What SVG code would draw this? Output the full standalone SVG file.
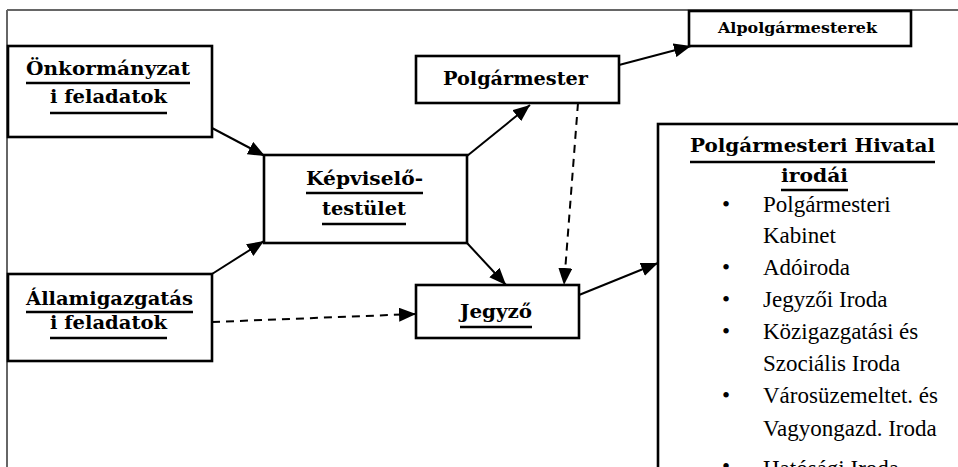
<svg xmlns="http://www.w3.org/2000/svg" width="958" height="467" viewBox="0 0 958 467">
<defs>
<marker id="ah" markerUnits="userSpaceOnUse" markerWidth="18" markerHeight="14" refX="17" refY="7" orient="auto">
<path d="M0,0 L17,7 L0,14 z" fill="#000"/>
</marker>
<style>
.box{fill:#fff;stroke:#000;stroke-width:2.6}
.hb{font-family:"DejaVu Serif","Liberation Serif",serif;font-weight:bold;font-size:18.5px;fill:#000;text-anchor:middle}
.ul{stroke:#000;stroke-width:2.4}
.li{font-family:"Liberation Serif","Times New Roman",serif;font-size:23px;fill:#000}
.bu{font-family:"Liberation Serif",serif;font-size:23px;fill:#000;text-anchor:middle}
.c{stroke:#000;stroke-width:2;fill:none;marker-end:url(#ah)}
.d{stroke-dasharray:8,6}
</style>
</defs>
<rect width="958" height="467" fill="#fff"/>
<g id="frame">
<line x1="7" y1="10" x2="958" y2="10" stroke="#666" stroke-width="2"/>
<line x1="7" y1="10" x2="7" y2="467" stroke="#666" stroke-width="2"/>
</g>
<g id="connectors">
<line class="c" x1="212" y1="128" x2="265" y2="156"/>
<line class="c" x1="212" y1="274" x2="264" y2="241"/>
<line class="c" x1="467" y1="156" x2="530" y2="105"/>
<line class="c" x1="467" y1="243" x2="506" y2="285"/>
<line class="c d" x1="578" y1="103" x2="564" y2="285"/>
<line class="c d" x1="212" y1="322" x2="416" y2="314"/>
<line class="c" x1="579" y1="295" x2="658" y2="263"/>
<line class="c" x1="619" y1="65" x2="691" y2="46"/>
</g>
<g id="onkormanyzati">
<rect class="box" x="8" y="46" width="204" height="91"/>
<text class="hb" x="108" y="75" textLength="164" lengthAdjust="spacingAndGlyphs">Önkormányzat</text>
<line class="ul" x1="26" y1="83" x2="190" y2="83"/>
<text class="hb" x="108.5" y="103" textLength="117" lengthAdjust="spacingAndGlyphs">i feladatok</text>
<line class="ul" x1="50" y1="113" x2="167" y2="113"/>
</g>
<g id="allamigazgatasi">
<rect class="box" x="8" y="274" width="204" height="87"/>
<text class="hb" x="109.5" y="305" textLength="167" lengthAdjust="spacingAndGlyphs">Államigazgatás</text>
<line class="ul" x1="26" y1="312" x2="193" y2="312"/>
<text class="hb" x="108.5" y="329" textLength="117" lengthAdjust="spacingAndGlyphs">i feladatok</text>
<line class="ul" x1="50" y1="338" x2="167" y2="338"/>
</g>
<g id="kepviselo">
<rect class="box" x="264" y="155" width="203" height="88"/>
<text class="hb" x="364.5" y="185" textLength="117" lengthAdjust="spacingAndGlyphs">Képviselő-</text>
<line class="ul" x1="306" y1="193" x2="423" y2="193"/>
<text class="hb" x="364" y="215" textLength="84" lengthAdjust="spacingAndGlyphs">testület</text>
<line class="ul" x1="322" y1="224" x2="406" y2="224"/>
</g>
<g id="polgarmester">
<rect class="box" x="416" y="56" width="203" height="47"/>
<text class="hb" x="515.5" y="85" textLength="145" lengthAdjust="spacingAndGlyphs">Polgármester</text>
</g>
<g id="alpolgarmesterek">
<rect class="box" x="689" y="11" width="222" height="35"/>
<text class="hb" x="797.5" y="33" style="font-size:14.5px" textLength="159" lengthAdjust="spacingAndGlyphs">Alpolgármesterek</text>
</g>
<g id="jegyzo">
<rect class="box" x="416" y="285" width="163" height="53"/>
<text class="hb" x="496" y="318" textLength="72" lengthAdjust="spacingAndGlyphs">Jegyző</text>
<line class="ul" x1="460" y1="327" x2="532" y2="327"/>
</g>
<g id="hivatal">
<rect class="box" x="658" y="124" width="320" height="360"/>
<text class="hb" x="812.5" y="152" textLength="245" lengthAdjust="spacingAndGlyphs">Polgármesteri  Hivatal</text>
<line class="ul" x1="690" y1="162" x2="935" y2="162"/>
<text class="hb" x="814.5" y="182" textLength="67" lengthAdjust="spacingAndGlyphs">irodái</text>
<line class="ul" x1="781" y1="190" x2="848" y2="190"/>
<text class="bu" x="726" y="212">•</text>
<text class="li" x="763" y="212">Polgármesteri</text>
<text class="li" x="763" y="243">Kabinet</text>
<text class="bu" x="726" y="275">•</text>
<text class="li" x="763" y="275">Adóiroda</text>
<text class="bu" x="726" y="307">•</text>
<text class="li" x="763" y="307">Jegyzői Iroda</text>
<text class="bu" x="726" y="339">•</text>
<text class="li" x="763" y="339">Közigazgatási és</text>
<text class="li" x="763" y="371">Szociális Iroda</text>
<text class="bu" x="726" y="403">•</text>
<text class="li" x="763" y="403">Városüzemeltet. és</text>
<text class="li" x="763" y="436">Vagyongazd. Iroda</text>
<text class="bu" x="726" y="474">•</text>
<text class="li" x="763" y="476">Hatósági Iroda</text>
</g>
</svg>
